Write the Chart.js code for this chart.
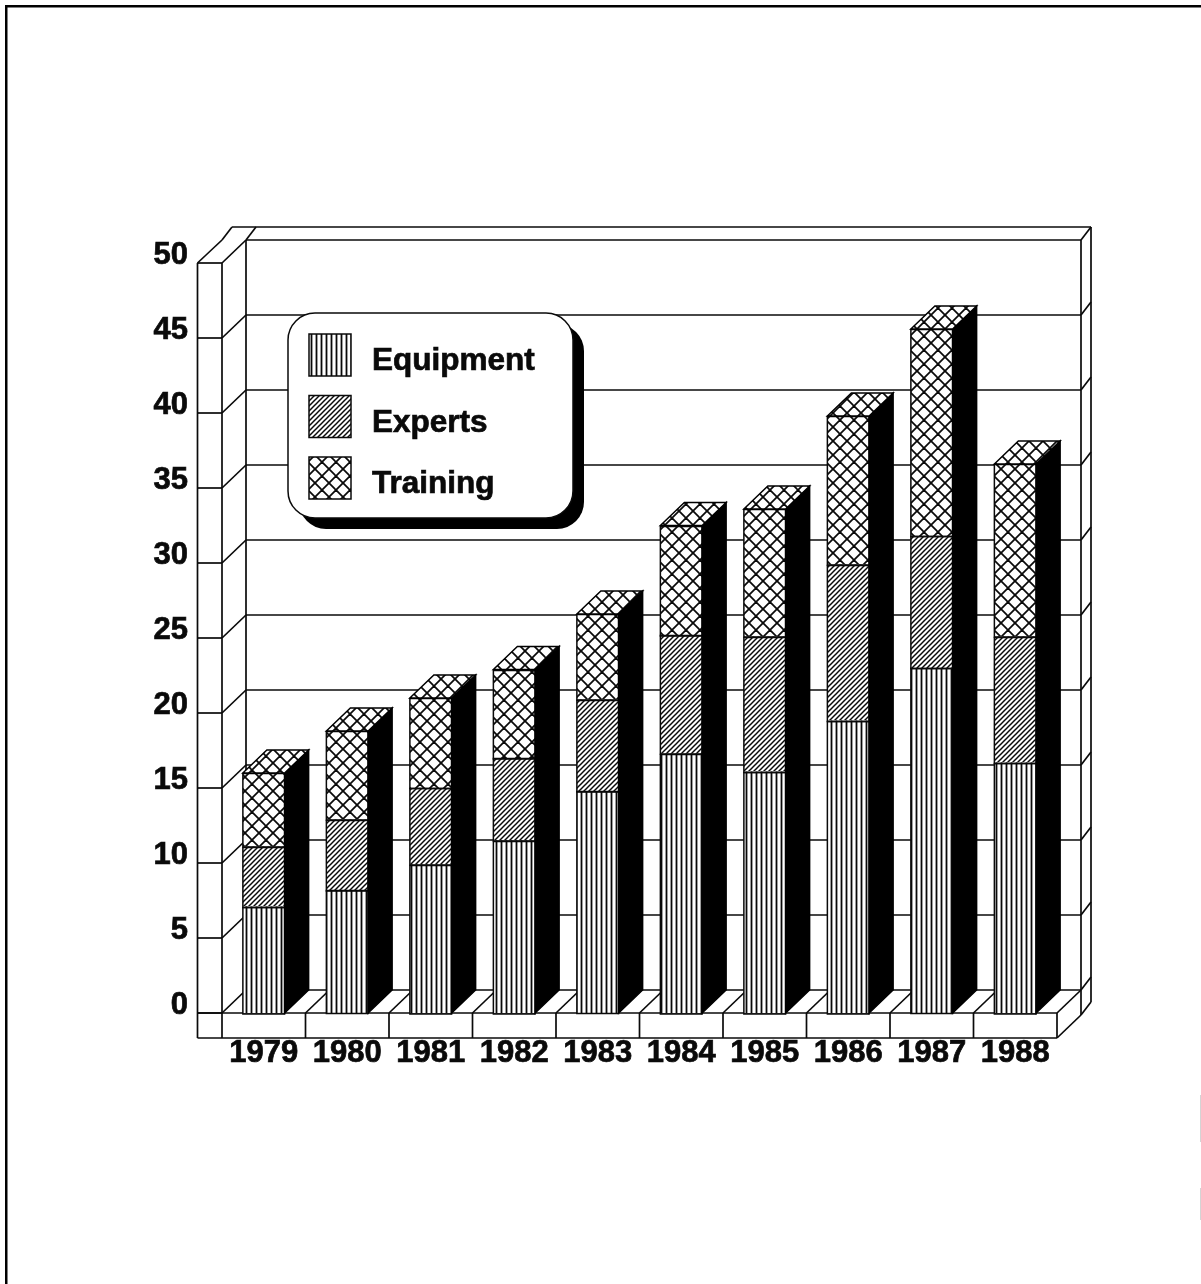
<!DOCTYPE html>
<html>
<head>
<meta charset="utf-8">
<title>Aid by type, 1979-1988</title>
<script src="https://cdn.jsdelivr.net/npm/chart.js@4/dist/chart.umd.min.js"></script>
<style>
  html, body { margin: 0; padding: 0; background: #fff; }
  canvas { display: block; }
</style>
</head>
<body>
<canvas id="myChart" width="1201" height="1284"></canvas>
<script>
var years = ['1979', '1980', '1981', '1982', '1983', '1984', '1985', '1986', '1987', '1988'];
var equipment = [7.1, 8.2, 9.9, 11.5, 14.8, 17.3, 16.1, 19.5, 23.0, 16.7];
var experts = [4.0, 4.7, 5.1, 5.5, 6.1, 7.9, 9.0, 10.4, 8.8, 8.4];
var training = [4.9, 5.9, 6.0, 5.9, 5.7, 7.3, 8.5, 9.9, 13.8, 11.5];

var fontFamily = '"Liberation Sans", Arial, sans-serif';
var ink = '#0a0a0a';

// depth of the box the bars stand in
var depthX = 24;
var depthY = 23;

function makePattern(size, paint) {
  var tile = document.createElement('canvas');
  tile.width = size;
  tile.height = size;
  var c = tile.getContext('2d');
  c.fillStyle = '#fff';
  c.fillRect(0, 0, size, size);
  c.strokeStyle = ink;
  paint(c, size);
  return document.getElementById('myChart').getContext('2d').createPattern(tile, 'repeat');
}

function line(c, x1, y1, x2, y2) {
  c.beginPath();
  c.moveTo(x1, y1);
  c.lineTo(x2, y2);
  c.stroke();
}

var stripes = makePattern(5, function (c, s) {
  c.lineWidth = 1.8;
  line(c, 1.5, 0, 1.5, s);
});

var hatch = makePattern(5, function (c, s) {
  c.lineWidth = 1.5;
  line(c, -1, s + 1, s + 1, -1);
  line(c, -1, 1, 1, -1);
  line(c, s - 1, s + 1, s + 1, s - 1);
});

var cross = makePattern(14, function (c, s) {
  c.lineWidth = 1.8;
  line(c, 0, 0, s, s);
  line(c, 0, s, s, 0);
});

// page frame, only partly printed on the right
var framePlugin = {
  id: 'frame',
  beforeDraw: function (chart) {
    var c = chart.ctx;
    c.save();
    c.fillStyle = '#fff';
    c.fillRect(0, 0, chart.width, chart.height);
    c.fillStyle = '#000';
    c.fillRect(5, 5, 1196, 2.5);
    c.fillRect(5, 5, 2.5, 1279);
    c.fillStyle = '#d4d4d4';
    c.fillRect(1200, 1095, 1, 47);
    c.fillRect(1200, 1188, 1, 32);
    c.restore();
  }
};

// walls, floor and base of the box, drawn behind the bars
var boxPlugin = {
  id: 'box',
  beforeDatasetsDraw: function (chart) {
    var c = chart.ctx;
    var area = chart.chartArea;
    var yScale = chart.scales.y;
    var left = area.left, right = area.right, bottom = area.bottom, top = area.top;
    var outer = left - 24.5;
    var railX = 10, railY = 13;
    var baseH = 25;
    var band = (right - left) / years.length;

    c.save();
    c.strokeStyle = ink;
    c.lineWidth = 1.7;

    yScale.ticks.forEach(function (t) {
      var py = yScale.getPixelForValue(t.value);
      line(c, outer, py, left, py);
      line(c, left, py, left + depthX, py - depthY);
      line(c, left + depthX, py - depthY, right + depthX, py - depthY);
      line(c, right + depthX, py - depthY, right + depthX + railX, py - depthY - railY);
    });

    // uprights
    line(c, outer, top, outer, bottom + baseH);
    line(c, left, top, left, bottom + baseH);
    line(c, left + depthX, top - depthY, left + depthX, bottom - depthY);
    line(c, right + depthX, top - depthY, right + depthX, bottom - depthY + baseH);
    line(c, right + depthX + railX, top - depthY - railY, right + depthX + railX, bottom - depthY - railY + baseH);

    // top rail
    line(c, outer, top, left, top - depthY);
    line(c, left, top - depthY, left + railX, top - depthY - railY);
    line(c, left + depthX, top - depthY, left + depthX + railX, top - depthY - railY);
    line(c, left + railX, top - depthY - railY, right + depthX + railX, top - depthY - railY);

    // base strip and floor dividers
    line(c, outer, bottom + baseH, right, bottom + baseH);
    line(c, right, bottom, right, bottom + baseH);
    line(c, right, bottom, right + depthX, bottom - depthY);
    line(c, right, bottom + baseH, right + depthX, bottom - depthY + baseH);
    line(c, right + depthX, bottom - depthY + baseH, right + depthX + railX, bottom - depthY - railY + baseH);
    for (var i = 1; i < years.length; i++) {
      var dx = left + band * i;
      line(c, dx, bottom, dx, bottom + baseH);
      line(c, dx, bottom, dx + depthX, bottom - depthY);
    }
    line(c, outer, bottom, right, bottom);
    c.restore();
  }
};

// outlines, black side face and hatched lid of every column
var depthPlugin = {
  id: 'depth',
  afterDatasetsDraw: function (chart) {
    var c = chart.ctx;
    var last = chart.data.datasets.length - 1;
    var lids = chart.getDatasetMeta(last).data;
    var feet = chart.getDatasetMeta(0).data;
    c.save();
    c.lineWidth = 1.5;

    chart.data.datasets.forEach(function (ds, d) {
      chart.getDatasetMeta(d).data.forEach(function (bar) {
        var p = bar.getProps(['x', 'y', 'base', 'width'], true);
        c.strokeStyle = ink;
        c.strokeRect(p.x - p.width / 2, Math.round(p.y) + 0.5, p.width, p.base - p.y);
      });
    });

    lids.forEach(function (bar, i) {
      var p = bar.getProps(['x', 'y', 'width'], true);
      var base = feet[i].getProps(['base'], true).base;
      var l = p.x - p.width / 2, r = p.x + p.width / 2;

      c.beginPath();
      c.moveTo(r, p.y);
      c.lineTo(r + depthX, p.y - depthY);
      c.lineTo(r + depthX, base - depthY);
      c.lineTo(r, base);
      c.closePath();
      c.fillStyle = '#000';
      c.strokeStyle = '#000';
      c.fill();
      c.stroke();

      c.beginPath();
      c.moveTo(l, p.y);
      c.lineTo(l + depthX, p.y - depthY);
      c.lineTo(r + depthX, p.y - depthY);
      c.lineTo(r, p.y);
      c.closePath();
      c.fillStyle = chart.data.datasets[last].backgroundColor;
      c.fill();
      c.stroke();
    });
    c.restore();
  }
};

// legend sits inside the plot on a rounded card with a hard shadow
var cardPlugin = {
  id: 'card',
  afterDraw: function (chart) {
    var c = chart.ctx;
    var x = 288, y = 313, w = 285, h = 205;
    c.save();
    c.fillStyle = '#000';
    c.beginPath();
    c.roundRect(x + 11, y + 11, w, h, 27);
    c.fill();
    c.fillStyle = '#fff';
    c.strokeStyle = ink;
    c.lineWidth = 1.5;
    c.beginPath();
    c.roundRect(x, y, w, h, 27);
    c.fill();
    c.stroke();

    c.font = 'bold 31.5px ' + fontFamily;
    c.textBaseline = 'alphabetic';
    chart.data.datasets.forEach(function (ds, i) {
      var sy = 334 + i * 61.5;
      c.fillStyle = ds.backgroundColor;
      c.fillRect(309, sy, 42, 42);
      c.lineWidth = 1.5;
      c.strokeStyle = ink;
      c.strokeRect(309, sy, 42, 42);
      c.fillStyle = ink;
      c.fillText(ds.label, 372, sy + 36);
      c.lineWidth = 0.7;
      c.strokeText(ds.label, 372, sy + 36);
    });
    c.restore();
  }
};

function datasetFor(label, values, fill) {
  return {
    label: label,
    data: values,
    backgroundColor: fill,
    borderWidth: 0,
    categoryPercentage: 0.5,
    barPercentage: 1
  };
}

var grafico = new Chart(document.getElementById('myChart').getContext('2d'), {
  type: 'bar',
  data: {
    labels: years,
    datasets: [
      datasetFor('Equipment', equipment, stripes),
      datasetFor('Experts', experts, hatch),
      datasetFor('Training', training, cross)
    ]
  },
  options: {
    responsive: false,
    animation: false,
    devicePixelRatio: 1,
    events: [],
    layout: {
      autoPadding: false,
      padding: { left: 0, top: 263, right: 144, bottom: 0 }
    },
    plugins: {
      legend: { display: false },
      tooltip: { enabled: false },
      title: { display: false }
    },
    scales: {
      x: {
        stacked: true,
        grid: { display: false },
        border: { display: false },
        afterFit: function (scale) { scale.height = 271; },
        ticks: {
          autoSkip: false,
          maxRotation: 0,
          minRotation: 0,
          padding: 14,
          color: ink,
          textStrokeColor: ink,
          textStrokeWidth: 0.7,
          font: { family: fontFamily, size: 31, weight: 'bold' }
        }
      },
      y: {
        stacked: true,
        min: 0,
        max: 50,
        grid: { display: false, drawTicks: false },
        border: { display: false },
        afterFit: function (scale) { scale.width = 222; },
        ticks: {
          stepSize: 5,
          padding: 34,
          labelOffset: -8,
          color: ink,
          textStrokeColor: ink,
          textStrokeWidth: 0.7,
          font: { family: fontFamily, size: 31, weight: 'bold' }
        }
      }
    }
  },
  plugins: [framePlugin, boxPlugin, depthPlugin, cardPlugin]
});
</script>
</body>
</html>
